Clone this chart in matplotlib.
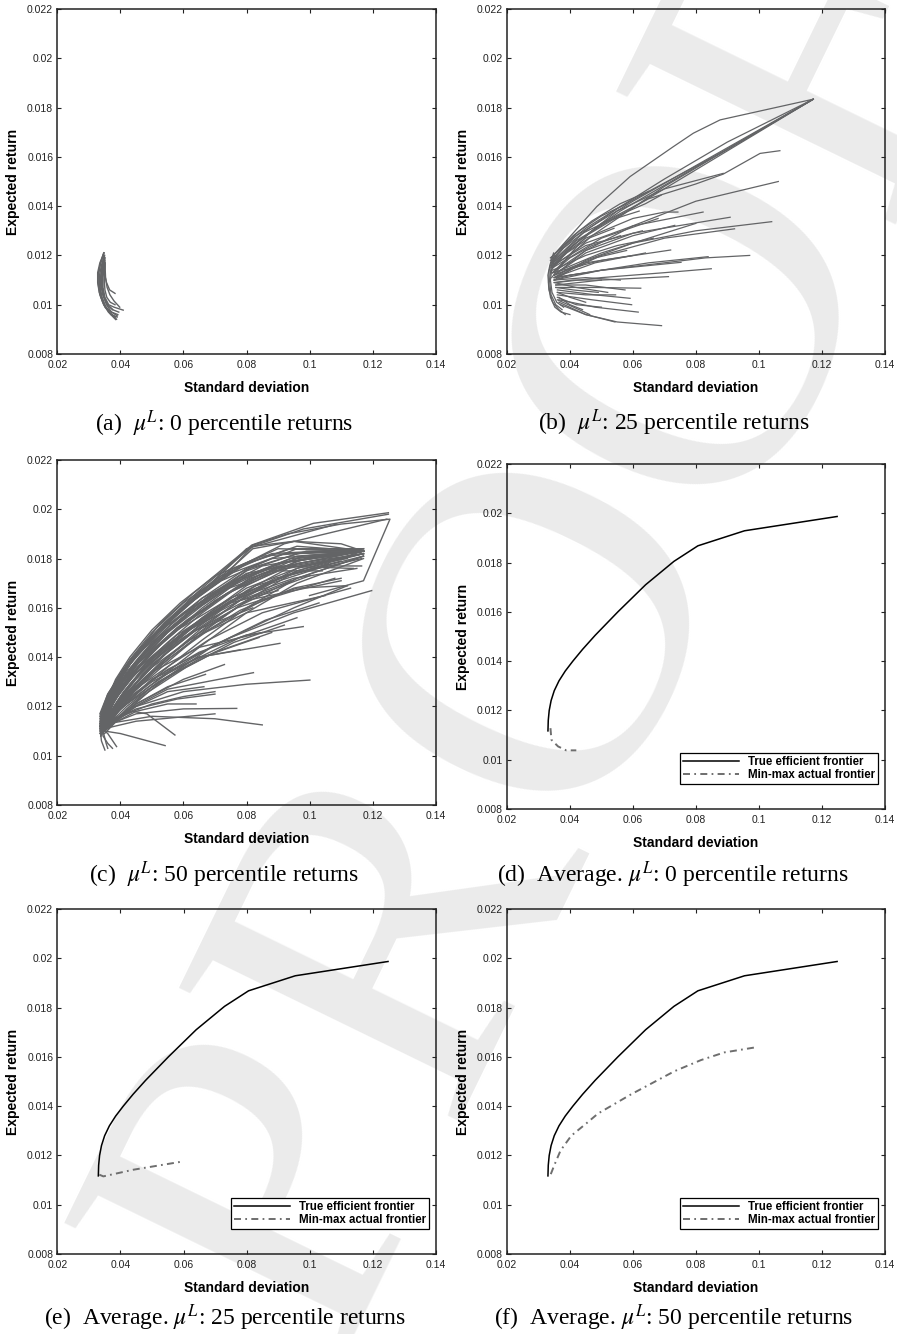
import matplotlib
matplotlib.use("Agg")
import matplotlib.pyplot as plt

plt.rcParams["font.family"] = "Liberation Sans"
plt.rcParams["mathtext.fontset"] = "stix"

# axis ticks
X_TICKS = [0.02, 0.04, 0.06, 0.08, 0.10, 0.12, 0.14]
X_LABELS = ["0.02", "0.04", "0.06", "0.08", "0.1", "0.12", "0.14"]
Y_TICKS = [0.008, 0.010, 0.012, 0.014, 0.016, 0.018, 0.020, 0.022]
Y_LABELS = ["0.008", "0.01", "0.012", "0.014", "0.016", "0.018", "0.02", "0.022"]

CAPTIONS = [
    r"(a)  $\mu^L$: 0 percentile returns",
    r"(b)  $\mu^L$: 25 percentile returns",
    r"(c)  $\mu^L$: 50 percentile returns",
    r"(d)  Average. $\mu^L$: 0 percentile returns",
    r"(e)  Average. $\mu^L$: 25 percentile returns",
    r"(f)  Average. $\mu^L$: 50 percentile returns",
]

# true efficient frontier (same in d, e, f)
TRUE_X = [0.0330, 0.0331, 0.0334, 0.0340, 0.0350, 0.0365, 0.0385, 0.0409, 0.0440, 0.0480,
          0.0552, 0.0640, 0.0730, 0.0806, 0.0954, 0.1248]
TRUE_Y = [0.01117, 0.01160, 0.01200, 0.01240, 0.01280, 0.01320, 0.01360, 0.01400, 0.01448, 0.01505,
          0.01600, 0.01710, 0.01805, 0.01868, 0.01929, 0.01987]

# min-max actual frontiers (averaged)
MINMAX_D_X = [0.0338, 0.0341, 0.0362, 0.0388, 0.0420]
MINMAX_D_Y = [0.01128, 0.01081, 0.01054, 0.01038, 0.01038]
MINMAX_E_X = [0.0333, 0.0346, 0.0441, 0.0600]
MINMAX_E_Y = [0.01122, 0.01115, 0.01142, 0.01176]
MINMAX_F_X = [0.0339, 0.0350, 0.0370, 0.0404, 0.0450, 0.0489, 0.0594, 0.0732, 0.0816, 0.0890, 0.0986]
MINMAX_F_Y = [0.01124, 0.01160, 0.01220, 0.01280, 0.01328, 0.01370, 0.01448, 0.01542, 0.01587, 0.01618, 0.01638]

# (a) 0 percentile: individual actual frontiers
CURVES_A = [
    ([0.0348, 0.0338, 0.0330, 0.0329, 0.0335, 0.0347, 0.0365, 0.0388], [0.01211, 0.0117, 0.0113, 0.0109, 0.0104, 0.0100, 0.0097, 0.00941]),
    ([0.0348, 0.0335, 0.0328, 0.0328, 0.0333, 0.0344, 0.0362, 0.0385], [0.0121, 0.0117, 0.0113, 0.0109, 0.0105, 0.0101, 0.0097, 0.0094]),
    ([0.0347, 0.0337, 0.0332, 0.0332, 0.0338, 0.0350, 0.0370, 0.0390], [0.0121, 0.0117, 0.0113, 0.0109, 0.0104, 0.0100, 0.0096, 0.0095]),
    ([0.0349, 0.0340, 0.0334, 0.0333, 0.0339, 0.0351, 0.0368, 0.0385], [0.0120, 0.0116, 0.0112, 0.0108, 0.0103, 0.0099, 0.00965, 0.0095]),
    ([0.0349, 0.0342, 0.0338, 0.0338, 0.0344, 0.0356, 0.0372, 0.0390], [0.0120, 0.0116, 0.0112, 0.0108, 0.0104, 0.0100, 0.0097, 0.00955]),
    ([0.0350, 0.0343, 0.0337, 0.0336, 0.0342, 0.0354, 0.0372, 0.0392], [0.0119, 0.0115, 0.0111, 0.0107, 0.0103, 0.0099, 0.0097, 0.0096]),
    ([0.0350, 0.0345, 0.0343, 0.0343, 0.0349, 0.0360, 0.0376], [0.0119, 0.0115, 0.0111, 0.0107, 0.0103, 0.0100, 0.0098]),
    ([0.0350, 0.0346, 0.0341, 0.0340, 0.0346, 0.0358, 0.0375, 0.0395], [0.0120, 0.0116, 0.0112, 0.0108, 0.0104, 0.0100, 0.0098, 0.0097]),
    ([0.0351, 0.0348, 0.0345, 0.0345, 0.0351, 0.0363, 0.0380, 0.0409], [0.0119, 0.0115, 0.0111, 0.0107, 0.0103, 0.0100, 0.0099, 0.00978]),
    ([0.0351, 0.0350, 0.0349, 0.0351, 0.0357, 0.0368, 0.0383], [0.0118, 0.0114, 0.0110, 0.0106, 0.0103, 0.0101, 0.0100]),
    ([0.0346, 0.0349, 0.0356, 0.0366, 0.0383], [0.0117, 0.0113, 0.0109, 0.0106, 0.01046]),
    ([0.0352, 0.0352, 0.0353, 0.0358, 0.0367, 0.0380, 0.0398], [0.0117, 0.0114, 0.0111, 0.0107, 0.0104, 0.01015, 0.0099]),
]

# (b) 25 percentile
CURVES_B = [
    ([0.0347, 0.0400, 0.0485, 0.0591, 0.0728, 0.0792, 0.0877, 0.1173], [0.0120, 0.01276, 0.01398, 0.0152, 0.01641, 0.01696, 0.0175, 0.01834]),
    ([0.0340, 0.0380, 0.0432, 0.0676, 0.1173], [0.0116, 0.0121, 0.01265, 0.01452, 0.01834]),
    ([0.0345, 0.0400, 0.0470, 0.0700, 0.1173], [0.0113, 0.0120, 0.0128, 0.0148, 0.01834]),
    ([0.0338, 0.0370, 0.0420, 0.0600, 0.1173], [0.0118, 0.0122, 0.0128, 0.0142, 0.01834]),
    ([0.0342, 0.0390, 0.0460, 0.0560, 0.0640, 0.1173], [0.0111, 0.0119, 0.0129, 0.0138, 0.0144, 0.01834]),
    ([0.0338, 0.0380, 0.0450, 0.0550, 0.0650, 0.0900, 0.1173], [0.0119, 0.0124, 0.0131, 0.0139, 0.0146, 0.0163, 0.01834]),
    ([0.0342, 0.0390, 0.0450, 0.0550, 0.0700, 0.0900, 0.1173], [0.0117, 0.0123, 0.0130, 0.0139, 0.0151, 0.0166, 0.01834]),
    ([0.0340, 0.0400, 0.0500, 0.0650, 0.0800, 0.0887, 0.1004, 0.1067], [0.0114, 0.0123, 0.0133, 0.0143, 0.0149, 0.0153, 0.01614, 0.01625]),
    ([0.0345, 0.0420, 0.0550, 0.0700, 0.0887], [0.0116, 0.0125, 0.0138, 0.0147, 0.01533]),
    ([0.0350, 0.0450, 0.0600, 0.0800, 0.1062], [0.0112, 0.0122, 0.0132, 0.0142, 0.0150]),
    ([0.0350, 0.0450, 0.0600, 0.0800, 0.1041], [0.0110, 0.0118, 0.0125, 0.0130, 0.01337]),
    ([0.0345, 0.0450, 0.0600, 0.0909], [0.0113, 0.0122, 0.0129, 0.01355]),
    ([0.0350, 0.0500, 0.0700, 0.0923], [0.0111, 0.0120, 0.0127, 0.01308]),
    ([0.0340, 0.0450, 0.0600, 0.0823], [0.0115, 0.0125, 0.0132, 0.01376]),
    ([0.0345, 0.0450, 0.0600, 0.0700, 0.0743], [0.0117, 0.0127, 0.0135, 0.01376, 0.01376]),
    ([0.0350, 0.0450, 0.0600, 0.0733], [0.0112, 0.0121, 0.0128, 0.01322]),
    ([0.0355, 0.0500, 0.0700, 0.0830, 0.0971], [0.0111, 0.0114, 0.0117, 0.0119, 0.0120]),
    ([0.0350, 0.0500, 0.0650, 0.0839], [0.0110, 0.0114, 0.0117, 0.01195]),
    ([0.0355, 0.0500, 0.0700, 0.0849], [0.0109, 0.0111, 0.0113, 0.01146]),
    ([0.0350, 0.0500, 0.0753], [0.0111, 0.0114, 0.01172]),
    ([0.0345, 0.0500, 0.0720], [0.0113, 0.0118, 0.01222]),
    ([0.0355, 0.0500, 0.0713], [0.0108, 0.0110, 0.01114]),
    ([0.0355, 0.0480, 0.0625], [0.0107, 0.0107, 0.01067]),
    ([0.0360, 0.0480, 0.0591], [0.0106, 0.0104, 0.01026]),
    ([0.0360, 0.0470, 0.0596], [0.0104, 0.0102, 0.0100]),
    ([0.0365, 0.0480, 0.0617], [0.0102, 0.0099, 0.0097]),
    ([0.0370, 0.0450, 0.0550, 0.0691], [0.0100, 0.0096, 0.0093, 0.00915]),
    ([0.0365, 0.0450, 0.0543], [0.0101, 0.0096, 0.0093]),
    ([0.0360, 0.0463], [0.0102, 0.0096]),
    ([0.0355, 0.0450, 0.0575], [0.0108, 0.0108, 0.0106]),
    ([0.0350, 0.0450, 0.0560], [0.0110, 0.0111, 0.0110]),
    ([0.0360, 0.0450, 0.0545], [0.0105, 0.0104, 0.0104]),
    ([0.0345, 0.0450, 0.0550, 0.0665], [0.0114, 0.0120, 0.0124, 0.0127]),
    ([0.0345, 0.0450, 0.0630], [0.0116, 0.0124, 0.0130]),
    ([0.0350, 0.0450, 0.0600], [0.0112, 0.0117, 0.0120]),
    ([0.0350, 0.0420, 0.0520], [0.0109, 0.0107, 0.0105]),
    ([0.0340, 0.0420, 0.0550, 0.0640, 0.0690], [0.0117, 0.0126, 0.0136, 0.0141, 0.01445]),
    ([0.0360, 0.0420, 0.0500], [0.0103, 0.0100, 0.0099]),
    ([0.0350, 0.0500, 0.0700, 0.0800], [0.0113, 0.0121, 0.0129, 0.0133]),
    ([0.0350, 0.0480, 0.0640], [0.0111, 0.0117, 0.0121]),
    ([0.0345, 0.0500, 0.0680], [0.0115, 0.0127, 0.0135]),
    ([0.0340, 0.0380, 0.0440, 0.0520, 0.0620], [0.0117, 0.0123, 0.0129, 0.0134, 0.0138]),
    ([0.0345, 0.0400, 0.0470, 0.0560], [0.0113, 0.0119, 0.0124, 0.0128]),
    ([0.0350, 0.0400, 0.0480, 0.0580], [0.0111, 0.0115, 0.0119, 0.0122]),
    ([0.0340, 0.0390, 0.0460, 0.0540], [0.0115, 0.0121, 0.0127, 0.0131]),
    ([0.0350, 0.0410, 0.0500], [0.0109, 0.0110, 0.0110]),
    ([0.0355, 0.0410, 0.0490], [0.0107, 0.0106, 0.0105]),
    ([0.0345, 0.0380, 0.0430, 0.0500, 0.0580], [0.0118, 0.0124, 0.0130, 0.0136, 0.0141]),
    ([0.0340, 0.0370, 0.0410, 0.0470, 0.0560, 0.0650], [0.0119, 0.0123, 0.0128, 0.0134, 0.0141, 0.0146]),
    ([0.0350, 0.0390, 0.0440], [0.0112, 0.0114, 0.0116]),
    ([0.0350, 0.0400, 0.0460], [0.0110, 0.0112, 0.0113]),
    ([0.0360, 0.0400, 0.0450], [0.0105, 0.0103, 0.0101]),
    ([0.0365, 0.0400, 0.0440], [0.0103, 0.0100, 0.0098]),
    ([0.0348, 0.0336, 0.0330, 0.0333, 0.0345, 0.0365, 0.0385], [0.0121, 0.0116, 0.0112, 0.0106, 0.0101, 0.0098, 0.0096]),
    ([0.0350, 0.0340, 0.0335, 0.0340, 0.0355, 0.0375], [0.0120, 0.0115, 0.0110, 0.0104, 0.0100, 0.0098]),
    ([0.0345, 0.0334, 0.0332, 0.0338, 0.0352, 0.0372, 0.0400], [0.0119, 0.0114, 0.0109, 0.0103, 0.0099, 0.0097, 0.0096]),
    ([0.0350, 0.0342, 0.0338, 0.0343, 0.0358, 0.0380], [0.0118, 0.0114, 0.0110, 0.0105, 0.0101, 0.0099]),
]

# (c) 50 percentile
CURVES_C = [
    ([0.0335, 0.036, 0.040, 0.045, 0.0526, 0.0631, 0.0817, 0.1012, 0.1250], [0.0117, 0.0125, 0.0133, 0.0141, 0.01537, 0.01659, 0.01855, 0.01943, 0.01986]),
    ([0.0338, 0.036, 0.040, 0.046, 0.055, 0.066, 0.080, 0.096, 0.1171], [0.0113, 0.0122, 0.0132, 0.0142, 0.0154, 0.0166, 0.0178, 0.0185, 0.0183]),
    ([0.0338, 0.036, 0.040, 0.046, 0.055, 0.066, 0.080, 0.096, 0.1171], [0.0111, 0.0120, 0.0130, 0.0140, 0.0152, 0.0164, 0.0176, 0.0184, 0.0183]),
    ([0.0338, 0.036, 0.040, 0.046, 0.055, 0.066, 0.080, 0.096, 0.1171], [0.0110, 0.0119, 0.0129, 0.0138, 0.0150, 0.0162, 0.0175, 0.0182, 0.0183]),
    ([0.0338, 0.036, 0.040, 0.046, 0.055, 0.066, 0.080, 0.096, 0.1171], [0.0112, 0.0118, 0.0127, 0.0136, 0.0148, 0.0160, 0.0173, 0.0181, 0.0183]),
    ([0.0338, 0.036, 0.040, 0.046, 0.055, 0.066, 0.080, 0.096, 0.1171], [0.0109, 0.0117, 0.0126, 0.0135, 0.0146, 0.0158, 0.0171, 0.0180, 0.0183]),
    ([0.0338, 0.036, 0.040, 0.046, 0.055, 0.066, 0.080, 0.096, 0.1171], [0.0111, 0.0116, 0.0124, 0.0133, 0.0144, 0.0156, 0.0169, 0.0179, 0.0183]),
    ([0.0338, 0.036, 0.040, 0.046, 0.055, 0.066, 0.080, 0.096, 0.1171], [0.0108, 0.0115, 0.0123, 0.0131, 0.0142, 0.0154, 0.0167, 0.0178, 0.0182]),
    ([0.0338, 0.036, 0.040, 0.046, 0.055, 0.066, 0.080, 0.096, 0.1171], [0.0110, 0.0114, 0.0121, 0.0129, 0.0140, 0.0152, 0.0165, 0.0176, 0.0182]),
    ([0.0338, 0.036, 0.040, 0.046, 0.055, 0.066, 0.080, 0.096, 0.1171], [0.0112, 0.0116, 0.0122, 0.0128, 0.0138, 0.0150, 0.0163, 0.0175, 0.0183]),
    ([0.0338, 0.036, 0.040, 0.046, 0.055, 0.066, 0.080, 0.096, 0.1171], [0.0109, 0.0113, 0.0119, 0.0126, 0.0136, 0.0147, 0.0160, 0.0172, 0.0181]),
    ([0.0338, 0.036, 0.040, 0.046, 0.055, 0.066, 0.080, 0.096, 0.1171], [0.0111, 0.0114, 0.0119, 0.0125, 0.0134, 0.0145, 0.0158, 0.0170, 0.0180]),
    ([0.034, 0.037, 0.042, 0.050, 0.060, 0.075, 0.090, 0.1139], [0.0110, 0.0121, 0.0133, 0.0146, 0.0158, 0.0170, 0.0177, 0.0176]),
    ([0.0345, 0.038, 0.044, 0.052, 0.065, 0.080, 0.1086], [0.0114, 0.0127, 0.0139, 0.0150, 0.0165, 0.0184, 0.0194]),
    ([0.0335, 0.036, 0.041, 0.048, 0.060, 0.082, 0.093, 0.110, 0.1255, 0.1171, 0.100], [0.0113, 0.0123, 0.0135, 0.0146, 0.0160, 0.01855, 0.0190, 0.0194, 0.0196, 0.0171, 0.0165]),
    ([0.036, 0.042, 0.055, 0.075, 0.095, 0.1197], [0.0112, 0.0123, 0.0135, 0.0148, 0.0158, 0.0167]),
    ([0.035, 0.040, 0.050, 0.065, 0.080, 0.098], [0.0110, 0.0119, 0.0131, 0.0142, 0.0149, 0.01524]),
    ([0.0345, 0.040, 0.050, 0.065, 0.0906], [0.0111, 0.0120, 0.0130, 0.0140, 0.01456]),
    ([0.036, 0.045, 0.060, 0.080, 0.1001], [0.0112, 0.0120, 0.0126, 0.0129, 0.01307]),
    ([0.035, 0.043, 0.055, 0.0822], [0.0110, 0.0119, 0.0127, 0.01337]),
    ([0.036, 0.050, 0.070, 0.085], [0.0113, 0.0116, 0.0115, 0.01125]),
    ([0.035, 0.045, 0.060, 0.0769], [0.0112, 0.0117, 0.0119, 0.01192]),
    ([0.035, 0.045, 0.070], [0.0111, 0.0114, 0.0117]),
    ([0.035, 0.045, 0.058, 0.070], [0.0113, 0.0119, 0.0123, 0.0125]),
    ([0.034, 0.044, 0.0484, 0.0573], [0.0112, 0.0118, 0.0117, 0.01084]),
    ([0.035, 0.040, 0.0542], [0.0110, 0.0109, 0.01041]),
    ([0.034, 0.036, 0.0388], [0.0111, 0.0109, 0.01037]),
    ([0.0335, 0.034, 0.0351], [0.0112, 0.0106, 0.01023]),
    ([0.034, 0.0345, 0.0355, 0.036], [0.0115, 0.0110, 0.0105, 0.0103]),
    ([0.036, 0.045, 0.055, 0.0665], [0.0113, 0.0120, 0.0126, 0.0128]),
    ([0.035, 0.045, 0.060, 0.073], [0.0112, 0.0121, 0.0131, 0.0137]),
    ([0.035, 0.045, 0.055, 0.067], [0.0111, 0.0121, 0.0128, 0.0133]),
    ([0.034, 0.040, 0.050, 0.065, 0.078], [0.0110, 0.0120, 0.0131, 0.0140, 0.0143]),
    ([0.0345, 0.040, 0.050, 0.065, 0.085], [0.0112, 0.0122, 0.0134, 0.0144, 0.0150]),
    ([0.034, 0.039, 0.048, 0.062, 0.080, 0.105], [0.0110, 0.0121, 0.0134, 0.0147, 0.0158, 0.0165]),
    ([0.034, 0.038, 0.046, 0.060, 0.080, 0.110], [0.0111, 0.0123, 0.0136, 0.0150, 0.0163, 0.0171]),
    ([0.034, 0.038, 0.045, 0.058, 0.075, 0.095, 0.110], [0.0110, 0.0123, 0.0137, 0.0151, 0.0164, 0.0174, 0.0179]),
    ([0.0335, 0.037, 0.044, 0.055, 0.070, 0.090, 0.104], [0.0112, 0.0125, 0.0139, 0.0153, 0.0166, 0.0175, 0.0175]),
    ([0.034, 0.038, 0.046, 0.058, 0.075, 0.095, 0.115], [0.0109, 0.0122, 0.0136, 0.0149, 0.0163, 0.0172, 0.0176]),
    ([0.034, 0.036, 0.040, 0.046, 0.055, 0.065, 0.080, 0.1171], [0.0112, 0.0121, 0.0130, 0.0139, 0.0151, 0.0162, 0.0174, 0.0183]),
    ([0.035, 0.040, 0.048, 0.060, 0.075, 0.090], [0.0111, 0.0123, 0.0137, 0.0150, 0.0162, 0.0167]),
    ([0.035, 0.040, 0.050, 0.064, 0.082], [0.0110, 0.0122, 0.0137, 0.0151, 0.0160]),
    ([0.034, 0.037, 0.043, 0.052, 0.066, 0.085, 0.1171], [0.0112, 0.0124, 0.0137, 0.0150, 0.0164, 0.0177, 0.0184]),
    ([0.034, 0.037, 0.042, 0.050, 0.062, 0.076, 0.090, 0.1171], [0.0111, 0.0123, 0.0134, 0.0146, 0.0158, 0.0170, 0.0178, 0.0183]),
    ([0.0335, 0.036, 0.040, 0.046, 0.055, 0.065, 0.075, 0.082, 0.095, 0.1171], [0.0114, 0.0124, 0.0133, 0.0142, 0.0155, 0.0167, 0.0178, 0.0185, 0.0187, 0.0183]),
    ([0.034, 0.037, 0.043, 0.052, 0.064, 0.078, 0.092, 0.1245], [0.0113, 0.0125, 0.0138, 0.0151, 0.0164, 0.0177, 0.0186, 0.0196]),
    ([0.035, 0.040, 0.047, 0.058, 0.072, 0.088, 0.105, 0.1165], [0.0110, 0.0121, 0.0133, 0.0146, 0.0159, 0.0170, 0.0177, 0.0177]),
    ([0.0335, 0.036, 0.041, 0.049, 0.060, 0.073, 0.082, 0.098, 0.1250], [0.0116, 0.0125, 0.0135, 0.0147, 0.0160, 0.0173, 0.0185, 0.0192, 0.0198]),
    ([0.034, 0.0345, 0.036, 0.0375], [0.0113, 0.0108, 0.0105, 0.0103]),
    ([0.036, 0.045, 0.055, 0.064], [0.0112, 0.0118, 0.0121, 0.0121]),
    ([0.035, 0.042, 0.050, 0.060, 0.070], [0.0111, 0.0117, 0.0121, 0.0124, 0.0126]),
    ([0.035, 0.043, 0.055, 0.070, 0.095, 0.112], [0.0110, 0.0120, 0.0132, 0.0145, 0.0160, 0.0169]),
    ([0.034, 0.038, 0.046, 0.058, 0.074, 0.092, 0.112], [0.0111, 0.0124, 0.0138, 0.0152, 0.0166, 0.0176, 0.0180]),
    ([0.034, 0.039, 0.047, 0.060, 0.077, 0.096, 0.112], [0.0110, 0.0122, 0.0135, 0.0148, 0.0160, 0.0168, 0.0169]),
    ([0.0335, 0.035, 0.038, 0.043, 0.050, 0.060, 0.072, 0.088, 0.1171], [0.0110, 0.0118, 0.0127, 0.0137, 0.0148, 0.0160, 0.0171, 0.0180, 0.0183]),
    ([0.0335, 0.035, 0.038, 0.043, 0.050, 0.060, 0.072, 0.088, 0.1171], [0.0112, 0.0120, 0.0129, 0.0139, 0.0150, 0.0162, 0.0173, 0.0182, 0.0184]),
    ([0.034, 0.036, 0.039, 0.044, 0.051, 0.061, 0.074, 0.090, 0.1171], [0.0109, 0.0117, 0.0125, 0.0134, 0.0144, 0.0155, 0.0166, 0.0176, 0.0182]),
    ([0.034, 0.036, 0.039, 0.044, 0.051, 0.061, 0.074, 0.090, 0.1171], [0.0111, 0.0119, 0.0127, 0.0136, 0.0146, 0.0157, 0.0168, 0.0178, 0.0183]),
    ([0.0338, 0.0355, 0.0385, 0.043, 0.050, 0.059, 0.070, 0.085, 0.1171], [0.0113, 0.0122, 0.0131, 0.0140, 0.0151, 0.0162, 0.0173, 0.0181, 0.0184]),
    ([0.0338, 0.0355, 0.0385, 0.043, 0.050, 0.059, 0.070, 0.085, 0.1171], [0.0108, 0.0116, 0.0124, 0.0132, 0.0142, 0.0152, 0.0163, 0.0174, 0.0182]),
    ([0.0345, 0.037, 0.041, 0.047, 0.055, 0.066, 0.080, 0.098, 0.1171], [0.0110, 0.0118, 0.0126, 0.0135, 0.0145, 0.0156, 0.0168, 0.0177, 0.0182]),
    ([0.0345, 0.037, 0.041, 0.047, 0.055, 0.066, 0.080, 0.098, 0.1171], [0.0112, 0.0121, 0.0130, 0.0140, 0.0150, 0.0161, 0.0173, 0.0181, 0.0183]),
    ([0.034, 0.036, 0.040, 0.045, 0.052, 0.062, 0.075, 0.092, 0.1171], [0.0114, 0.0123, 0.0132, 0.0141, 0.0151, 0.0162, 0.0174, 0.0182, 0.0183]),
    ([0.034, 0.036, 0.040, 0.045, 0.052, 0.062, 0.075, 0.092, 0.1171], [0.0110, 0.0116, 0.0123, 0.0131, 0.0140, 0.0151, 0.0162, 0.0173, 0.0181]),
    ([0.0335, 0.0355, 0.039, 0.044, 0.052, 0.063, 0.078, 0.096, 0.1171], [0.0111, 0.0117, 0.0124, 0.0132, 0.0142, 0.0153, 0.0165, 0.0175, 0.0182]),
    ([0.0335, 0.0355, 0.039, 0.044, 0.052, 0.063, 0.078, 0.096, 0.1171], [0.0109, 0.0114, 0.0120, 0.0127, 0.0137, 0.0148, 0.0161, 0.0172, 0.0181]),
    ([0.035, 0.038, 0.042, 0.048, 0.057, 0.068, 0.083, 0.100], [0.0110, 0.0117, 0.0124, 0.0132, 0.0142, 0.0153, 0.0165, 0.0173]),
    ([0.035, 0.038, 0.042, 0.048, 0.057, 0.068, 0.083, 0.106], [0.0112, 0.0119, 0.0127, 0.0136, 0.0146, 0.0157, 0.0169, 0.0178]),
    ([0.0345, 0.037, 0.041, 0.047, 0.056, 0.068, 0.085, 0.108], [0.0109, 0.0115, 0.0122, 0.0130, 0.0140, 0.0151, 0.0163, 0.0172]),
    ([0.0345, 0.037, 0.041, 0.047, 0.056, 0.068, 0.085, 0.113], [0.0111, 0.0116, 0.0122, 0.0129, 0.0137, 0.0147, 0.0158, 0.0168]),
    ([0.034, 0.037, 0.042, 0.049, 0.058, 0.070, 0.086, 0.103], [0.0110, 0.0115, 0.0121, 0.0128, 0.0136, 0.0145, 0.0155, 0.0162]),
    ([0.034, 0.037, 0.042, 0.049, 0.058, 0.070, 0.088], [0.0112, 0.0116, 0.0121, 0.0127, 0.0134, 0.0142, 0.0150]),
    ([0.0335, 0.036, 0.040, 0.046, 0.054, 0.064, 0.076, 0.090, 0.1171], [0.0115, 0.0124, 0.0133, 0.0143, 0.0154, 0.0165, 0.0176, 0.0184, 0.0183]),
    ([0.0335, 0.036, 0.040, 0.046, 0.054, 0.064, 0.076, 0.082, 0.095, 0.110, 0.1171], [0.0113, 0.0123, 0.0132, 0.0142, 0.0153, 0.0165, 0.0177, 0.0184, 0.0187, 0.0186, 0.0183]),
    ([0.034, 0.0365, 0.041, 0.047, 0.056, 0.067, 0.081, 0.099, 0.1171], [0.0112, 0.0120, 0.0129, 0.0138, 0.0149, 0.0160, 0.0172, 0.0180, 0.0183]),
    ([0.034, 0.0365, 0.041, 0.047, 0.056, 0.067, 0.081, 0.099, 0.1171], [0.0114, 0.0122, 0.0131, 0.0141, 0.0152, 0.0164, 0.0176, 0.0183, 0.0183]),
    ([0.0345, 0.038, 0.043, 0.050, 0.060, 0.073, 0.089, 0.1165], [0.0111, 0.0120, 0.0129, 0.0139, 0.0150, 0.0161, 0.0172, 0.0180]),
    ([0.0345, 0.038, 0.043, 0.050, 0.060, 0.073, 0.089, 0.112], [0.0113, 0.0122, 0.0132, 0.0142, 0.0153, 0.0165, 0.0176, 0.0182]),
    ([0.034, 0.0355, 0.038, 0.042, 0.048, 0.056, 0.066, 0.078, 0.094, 0.1171], [0.0111, 0.0118, 0.0125, 0.0133, 0.0142, 0.0152, 0.0162, 0.0172, 0.0180, 0.0183]),
    ([0.034, 0.0355, 0.038, 0.042, 0.048, 0.056, 0.066, 0.078, 0.094, 0.1171], [0.0113, 0.0121, 0.0129, 0.0137, 0.0146, 0.0156, 0.0167, 0.0177, 0.0184, 0.0184]),
    ([0.035, 0.039, 0.045, 0.053, 0.064, 0.078, 0.095, 0.110], [0.0110, 0.0118, 0.0127, 0.0137, 0.0148, 0.0159, 0.0168, 0.0172]),
    ([0.035, 0.039, 0.045, 0.053, 0.064, 0.078, 0.094], [0.0111, 0.0119, 0.0129, 0.0140, 0.0151, 0.0163, 0.0171]),
    ([0.036, 0.042, 0.050, 0.062, 0.078, 0.096], [0.0111, 0.0119, 0.0128, 0.0138, 0.0148, 0.0156]),
    ([0.035, 0.041, 0.049, 0.061, 0.076, 0.092], [0.0109, 0.0117, 0.0126, 0.0136, 0.0146, 0.0153]),
    ([0.035, 0.042, 0.052, 0.066, 0.084], [0.0111, 0.0120, 0.0130, 0.0140, 0.0148]),
]

GRAY = "#636466"


def style_axes(ax):
    ax.set_facecolor("none")
    ax.set_xlim(0.02, 0.14)
    ax.set_ylim(0.008, 0.022)
    ax.set_xticks(X_TICKS)
    ax.set_xticklabels(X_LABELS)
    ax.set_yticks(Y_TICKS)
    ax.set_yticklabels(Y_LABELS)
    ax.tick_params(direction="in", length=3, width=0.8, top=True, right=True,
                   labelsize=7.5, colors="#222222")
    ax.tick_params(axis="x", pad=4)
    ax.tick_params(axis="y", pad=3)
    for s in ax.spines.values():
        s.set_linewidth(1.1)
        s.set_color("#222222")
    ax.set_xlabel("Standard deviation", fontsize=10, fontweight="bold")
    ax.set_ylabel("Expected return", fontsize=10, fontweight="bold")
    ax.xaxis.label.set_va("center")
    ax.yaxis.label.set_va("center")
    ax.xaxis.set_label_coords(0.5, -0.099)
    ax.yaxis.set_label_coords(-0.117, 0.5)


def plot_bundle(ax, curves, lw=0.9):
    for xs, ys in curves:
        ax.plot(xs, ys, color=GRAY, lw=lw)


def plot_average(ax, mx, my):
    ax.plot(TRUE_X, TRUE_Y, color="black", lw=1.1, label="True efficient frontier")
    ax.plot(mx, my, color="#6e6e6e", lw=1.4, linestyle=(0, (3.6, 2.2, 0.9, 2.2)),
            label="Min-max actual frontier")
    leg = ax.legend(loc="lower right", bbox_to_anchor=(0.981, 0.072), borderaxespad=0,
                    fancybox=False, framealpha=1, edgecolor="black", handlelength=4.8,
                    handletextpad=0.8, labelspacing=0.1, borderpad=0.25,
                    prop={"weight": "bold", "size": 8.3})
    leg.get_frame().set_linewidth(0.9)


fig = plt.figure(figsize=(8.97, 13.34), dpi=100)

# watermark behind the panels
fig.text(0.740, 0.494, "PROOF", fontsize=340, family="Liberation Serif", color="#ebebeb",
         rotation=64, rotation_mode="anchor", ha="center", va="baseline", zorder=-10)

W, H = 897.0, 1334.0
boxes = [
    (57.3, 435.7, 9, 354),
    (507, 884.7, 9, 354),
    (57.3, 435.7, 460, 805),
    (507, 885, 464, 809),
    (57.3, 436, 909, 1254),
    (507, 885, 909, 1254),
]
cap_pos = [(224.5, 431), (674, 430), (224.5, 882), (673, 882), (224.7, 1325), (674, 1325)]

axes = []
for (l, r, t, b) in boxes:
    ax = fig.add_axes([l / W, 1 - b / H, (r - l) / W, (b - t) / H])
    style_axes(ax)
    axes.append(ax)

plot_bundle(axes[0], CURVES_A, lw=1.0)
plot_bundle(axes[1], CURVES_B)
plot_bundle(axes[2], CURVES_C, lw=1.0)
plot_average(axes[3], MINMAX_D_X, MINMAX_D_Y)
plot_average(axes[4], MINMAX_E_X, MINMAX_E_Y)
plot_average(axes[5], MINMAX_F_X, MINMAX_F_Y)

for (cx, cy), cap in zip(cap_pos, CAPTIONS):
    fig.text(cx / W, 1 - cy / H, cap, ha="center", va="baseline", fontsize=17,
             family="Liberation Serif")

fig.savefig("out.png", dpi=100)
